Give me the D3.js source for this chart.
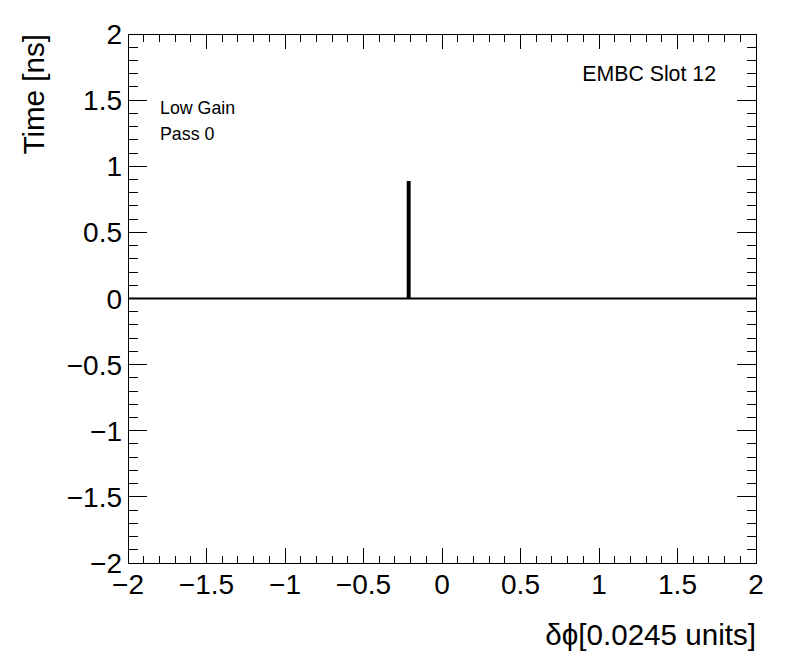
<!DOCTYPE html>
<html><head><meta charset="utf-8">
<script src="https://cdn.jsdelivr.net/npm/d3@7"></script>
<style>body{margin:0;background:#fff}svg{display:block}text{font-family:"Liberation Sans",Arial,sans-serif;fill:#000}</style>
</head><body>
<svg id="c" width="796" height="672"></svg>
<script>
// data: points of the time profile
const xs = [-2, -0.2185, -0.2185, -0.206, -0.206, 2];
const ys = [0, 0, 0.88, 0.88, 0, 0];
const xTicks = [-2, -1.5, -1, -0.5, 0, 0.5, 1, 1.5, 2];
const yTicks = [-2, -1.5, -1, -0.5, 0, 0.5, 1, 1.5, 2];
const xTitle = "δϕ[0.0245 units]";
const yTitle = "Time [ns]";
const labels = ["Low Gain", "Pass 0"];
const corner = "EMBC Slot 12";

const L = 128, R = 756, T = 34, B = 563;
const svg = d3.select("#c");
const x = d3.scaleLinear().domain([-2, 2]).range([L, R]);
const y = d3.scaleLinear().domain([-2, 2]).range([B, T]);
const fmt = v => (v < 0 ? "\u2212" : "") + String(Math.abs(v));

// ticks (major every 0.5, minor every 0.1) on all four sides
const minor = d3.range(-20, 21).map(i => i / 10);
const g = svg.append("g").attr("stroke", "#000").attr("stroke-width", 1).attr("shape-rendering", "crispEdges");
minor.forEach(v => {
  const major = Math.abs(v * 2 - Math.round(v * 2)) < 1e-9;
  const lx = major ? 15 : 7.5, ly = major ? 19 : 9.5;
  const px = x(v), py = y(v);
  g.append("line").attr("x1", px).attr("x2", px).attr("y1", B).attr("y2", B - lx);
  g.append("line").attr("x1", px).attr("x2", px).attr("y1", T).attr("y2", T + lx);
  g.append("line").attr("y1", py).attr("y2", py).attr("x1", L).attr("x2", L + ly);
  g.append("line").attr("y1", py).attr("y2", py).attr("x1", R).attr("x2", R - ly);
});
svg.append("rect").attr("x", L).attr("y", T).attr("width", R - L).attr("height", B - T)
  .attr("fill", "none").attr("stroke", "#000").attr("stroke-width", 1).attr("shape-rendering", "crispEdges");

// tick labels
svg.append("g").selectAll("text").data(xTicks).join("text")
  .attr("x", d => x(d)).attr("y", 594).attr("text-anchor", "middle")
  .attr("font-size", 28).text(fmt);
svg.append("g").selectAll("text").data(yTicks).join("text")
  .attr("x", 122).attr("y", d => y(d) + 10).attr("text-anchor", "end")
  .attr("font-size", 28).text(fmt);

// titles
svg.append("text").attr("x", 756).attr("y", 645).attr("text-anchor", "end").attr("font-size", 29.6).text(xTitle);
svg.append("text").attr("transform", "translate(44,34) rotate(-90)").attr("text-anchor", "end").attr("font-size", 29.6).text(yTitle);

// data line
const line = d3.line().x(d => x(d[0])).y(d => y(d[1]));
svg.append("path").datum(xs.map((v, i) => [v, ys[i]])).attr("d", line)
  .attr("fill", "none").attr("stroke", "#000").attr("stroke-width", 2).attr("stroke-linejoin", "miter");

// annotations
svg.append("text").attr("x", 160).attr("y", 114).attr("font-size", 17.8).text(labels[0]);
svg.append("text").attr("x", 160).attr("y", 140).attr("font-size", 17.8).text(labels[1]);
svg.append("text").attr("x", 716).attr("y", 81).attr("text-anchor", "end").attr("font-size", 21.3).text(corner);
</script>
</body></html>
